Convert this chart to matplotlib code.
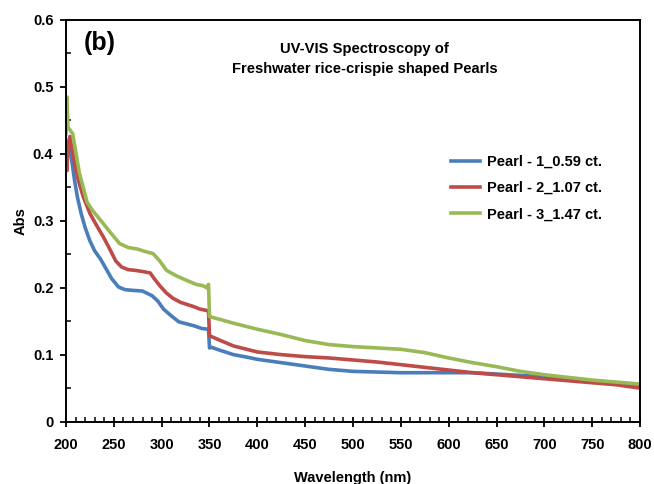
import matplotlib
matplotlib.use("Agg")
import matplotlib.pyplot as plt
from matplotlib.ticker import MultipleLocator

plt.rcParams['font.family'] = ['Liberation Sans', 'DejaVu Sans']
plt.rcParams['font.weight'] = 'bold'

# Pearl 1 (0.59 ct.)
wl_p1 = [200, 201, 203, 204, 206, 209, 212, 216, 220, 225, 230, 236, 242, 248, 255, 262, 270, 280,
         290, 296, 302, 310, 318, 326, 334, 342, 349, 350, 352, 360, 375, 390, 400, 425, 450, 475,
         500, 525, 550, 575, 600, 625, 650, 675, 700, 725, 750, 775, 800]
abs_p1 = [0.385, 0.400, 0.420, 0.405, 0.390, 0.360, 0.335, 0.310, 0.290, 0.270, 0.255, 0.243, 0.228,
          0.213, 0.201, 0.197, 0.196, 0.195, 0.188, 0.180, 0.168, 0.158, 0.149, 0.146, 0.143, 0.139,
          0.138, 0.110, 0.111, 0.107, 0.100, 0.096, 0.093, 0.088, 0.083, 0.078, 0.075, 0.074, 0.073,
          0.073, 0.073, 0.073, 0.071, 0.069, 0.067, 0.064, 0.061, 0.058, 0.054]

# Pearl 2 (1.07 ct.)
wl_p2 = [200, 201, 202, 204, 206, 209, 213, 218, 225, 232, 239, 246, 252, 258, 265, 272, 281, 288,
         292, 298, 305, 312, 320, 333, 340, 347, 349, 350, 352, 360, 375, 400, 425, 450, 475, 500,
         525, 550, 575, 600, 625, 650, 675, 700, 725, 750, 775, 800]
abs_p2 = [0.400, 0.375, 0.410, 0.426, 0.410, 0.386, 0.360, 0.336, 0.311, 0.293, 0.276, 0.257, 0.240,
          0.231, 0.227, 0.226, 0.224, 0.222, 0.214, 0.203, 0.192, 0.184, 0.178, 0.172, 0.168, 0.166,
          0.165, 0.128, 0.127, 0.122, 0.113, 0.104, 0.100, 0.097, 0.095, 0.092, 0.089, 0.085, 0.081,
          0.077, 0.073, 0.070, 0.067, 0.064, 0.061, 0.058, 0.055, 0.050]

# Pearl 3 (1.47 ct.)
wl_p3 = [200, 201, 202, 204, 207, 210, 214, 218, 222, 228, 236, 245, 256, 265, 274, 283, 291, 298,
         305, 315, 326, 336, 343, 347, 349, 350, 352, 360, 375, 400, 425, 450, 475, 500, 525, 550,
         575, 600, 625, 650, 675, 700, 725, 750, 775, 800]
abs_p3 = [0.430, 0.485, 0.440, 0.436, 0.430, 0.405, 0.371, 0.350, 0.328, 0.315, 0.301, 0.285, 0.266,
          0.260, 0.258, 0.254, 0.251, 0.240, 0.226, 0.218, 0.211, 0.205, 0.203, 0.200, 0.205, 0.157,
          0.156, 0.153, 0.147, 0.138, 0.130, 0.121, 0.115, 0.112, 0.110, 0.108, 0.103, 0.095, 0.088,
          0.082, 0.075, 0.070, 0.066, 0.062, 0.059, 0.056]

labels = ['Pearl - 1_0.59 ct.', 'Pearl - 2_1.07 ct.', 'Pearl - 3_1.47 ct.']
colors = ['#4a7ebb', '#be4b48', '#98b954']

fig = plt.figure(figsize=(6.54, 4.84), dpi=100)
ax = fig.add_axes([0.1009, 0.129, 0.8777, 0.8297])

ax.plot(wl_p1, abs_p1, color=colors[0], lw=2.6, label=labels[0])
ax.plot(wl_p2, abs_p2, color=colors[1], lw=2.6, label=labels[1])
ax.plot(wl_p3, abs_p3, color=colors[2], lw=2.6, label=labels[2])

ax.set_xlim(200, 800)
ax.set_ylim(0, 0.6)
ax.xaxis.set_major_locator(MultipleLocator(50))
ax.xaxis.set_minor_locator(MultipleLocator(10))
ax.yaxis.set_minor_locator(MultipleLocator(0.05))
ax.set_yticks([0, 0.1, 0.2, 0.3, 0.4, 0.5, 0.6])
ax.set_yticklabels(['0', '0.1', '0.2', '0.3', '0.4', '0.5', '0.6'])

ax.tick_params(axis='x', which='major', direction='inout', length=7, width=1.3, labelsize=10.5, pad=8)
ax.tick_params(axis='x', which='minor', direction='in', length=3.5, width=1.1)
ax.tick_params(axis='y', which='major', direction='out', length=4, width=1.3, labelsize=10.5, pad=5)
ax.tick_params(axis='y', which='minor', direction='in', length=3.5, width=1.1)
for s in ax.spines.values():
    s.set_linewidth(1.4)

ax.set_xlabel('Wavelength (nm)', fontsize=10.5, fontweight='bold', labelpad=14)
ax.set_ylabel('Abs', fontsize=10.5, fontweight='bold', labelpad=4)

ax.text(0.031, 0.943, '(b)', transform=ax.transAxes, fontsize=18, fontweight='bold', va='center')
ax.text(0.52, 0.903, 'UV-VIS Spectroscopy of\nFreshwater rice-crispie shaped Pearls',
        transform=ax.transAxes, fontsize=10.6, fontweight='bold', ha='center', va='center',
        linespacing=1.5)

ax.legend(loc='upper left', bbox_to_anchor=(0.647, 0.697), frameon=False, fontsize=10.5,
          handlelength=2.0, labelspacing=0.85, handletextpad=0.5)

fig.savefig('out.png', dpi=100)
